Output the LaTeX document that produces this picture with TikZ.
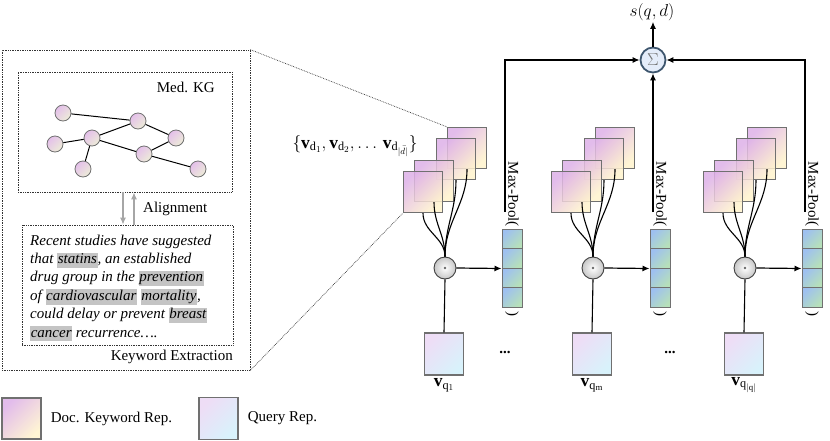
\documentclass[tikz,border=0pt]{standalone}
\usepackage{fontspec}
\setmainfont{Liberation Serif}
\usetikzlibrary{arrows.meta,positioning,shadings}

\definecolor{docA}{HTML}{DDB0E8}
\definecolor{docB}{HTML}{FFF3CC}
\definecolor{qryA}{HTML}{EEDDF6}
\definecolor{qryB}{HTML}{D8F2FB}
\definecolor{vecA}{HTML}{9EC0F0}
\definecolor{vecB}{HTML}{B6E0BA}
\definecolor{kgA}{HTML}{E4BFEA}
\definecolor{kgB}{HTML}{EDEDD8}
\definecolor{hlgray}{HTML}{C4C4C4}
\definecolor{sumfill}{HTML}{E4ECF9}
\definecolor{sumdraw}{HTML}{3E566E}
\definecolor{boxgray}{HTML}{707070}

\newcommand{\hlw}[1]{{\setlength{\fboxsep}{0.6pt}\colorbox{hlgray}{\rule[-3.6pt]{0pt}{14pt}#1}}}

\begin{document}
\begin{tikzpicture}[
            x=1pt, y=-1pt,
            every node/.style={
                font=\fontsize{15}{18}\selectfont,
                inner sep=1pt
            },
            mathlbl/.style={font=\fontsize{17.5}{20}\selectfont},
            docrep/.style={
                draw=boxgray,
                line width=1.3pt,
                top color=docA,
                bottom color=docB,
                shading angle=45,
                fill opacity=0.85,
                minimum width=39pt,
                minimum height=41pt,
                inner sep=0pt
            },
            qryrep/.style={
                draw=boxgray,
                line width=1.3pt,
                top color=qryA,
                bottom color=qryB,
                shading angle=45,
                minimum width=39pt,
                minimum height=42pt,
                inner sep=0pt
            },
            cell/.style={
                draw=boxgray,
                line width=1pt,
                top color=vecA,
                bottom color=vecB,
                shading angle=45,
                minimum width=20pt,
                minimum height=19.5pt,
                inner sep=0pt
            },
            kgnode/.style={
                circle,
                draw=boxgray,
                line width=0.8pt,
                top color=kgA,
                bottom color=kgB,
                shading angle=45,
                minimum size=16pt,
                inner sep=0pt
            },
            dotop/.style={
                circle,
                draw=black!75,
                line width=0.9pt,
                inner color=white,
                outer color=black!22,
                minimum size=22pt,
                inner sep=0pt
            },
            dotbox/.style={draw=black!80, densely dotted, line width=0.7pt},
            arr/.style={line width=1.2pt, -{Latex[length=7pt,width=6pt]}},
            alignarr/.style={draw=black!35, line width=1.3pt, -{Latex[length=7pt,width=6pt]}}
        ]
        \useasboundingbox (0,0) rectangle (830,440);

        % Keyword extraction panel
        \node[dotbox, minimum width=248pt, minimum height=320pt] (zoombox) at (126,210) {};
        \node[dotbox, minimum width=214pt, minimum height=120pt] (kgbox) at (125,132) {};
        \node[dotbox, minimum width=211pt, minimum height=120pt] (kwbox) at (127.5,285) {};
        \node[anchor=east] (kgtitle) at (216,87) {Med. KG};
        \node[anchor=east] (kwtitle) at (234,357) {Keyword Extraction};

        % Med. KG
        \node[kgnode] (n1) at (63,113) {};
        \node[kgnode] (n2) at (138,121) {};
        \node[kgnode] (n3) at (92,138) {};
        \node[kgnode] (n4) at (55,144) {};
        \node[kgnode] (n5) at (176,138) {};
        \node[kgnode] (n6) at (144,154) {};
        \node[kgnode] (n7) at (83,169) {};
        \node[kgnode] (n8) at (198,169) {};
        \draw[line width=1pt] (n1) -- (n2);
        \draw[line width=1pt] (n2) -- (n3);
        \draw[line width=1pt] (n2) -- (n5);
        \draw[line width=1pt] (n4) -- (n3);
        \draw[line width=1pt] (n3) -- (n7);
        \draw[line width=1pt] (n3) -- (n6);
        \draw[line width=1pt] (n6) -- (n5);
        \draw[line width=1pt] (n6) -- (n8);

        % Alignment
        \draw[alignarr] ([xshift=-2pt]kgbox.south) -- ([xshift=-2pt]kgbox.south |- kwbox.north);
        \draw[alignarr] ([xshift=9pt]kgbox.south |- kwbox.north) -- ([xshift=9pt]kgbox.south);
        \node[anchor=west] (aligntxt) at (142,209) {Alignment};

        % Abstract text
        \node[anchor=north west, align=left, inner sep=0pt,
              font=\fontsize{15}{18.4}\selectfont\itshape] (abstract) at (30,234.5)
            {Recent studies have suggested\\
             that \hlw{statins}, an established\\
             drug group in the \hlw{prevention}\\
             of \hlw{cardiovascular} \hlw{mortality},\\
             could delay or prevent \hlw{breast}\\
             \hlw{cancer} recurrence\ldots.};

        % Query terms
        \foreach \g/\dx/\ql in {1/0/1, 2/148/\mathrm{m}, 3/300/{|\mathrm{q}|}} {
            \node[docrep] (a\g) at (467+\dx,148) {};
            \node[docrep] (b\g) at (456+\dx,159) {};
            \node[docrep] (c\g) at (434+\dx,181) {};
            \node[docrep] (d\g) at (423+\dx,192) {};
            \node[dotop] (dot\g) at (445+\dx,268) {};
            \fill[black!60] (dot\g) circle (1.3pt);
            \draw[line width=1.1pt] (a\g.south) to[out=-90,in=90] (dot\g.north);
            \draw[line width=1.1pt] (b\g.south) to[out=-90,in=90] (dot\g.north);
            \draw[line width=1.1pt] (c\g.south) to[out=-90,in=90] (dot\g.north);
            \draw[line width=1.1pt] (d\g.south) to[out=-90,in=90] (dot\g.north);
            \node[cell] (v\g a) at (512+\dx,238.75) {};
            \node[cell] (v\g b) at (512+\dx,258.25) {};
            \node[cell] (v\g c) at (512+\dx,277.75) {};
            \node[cell] (v\g d) at (512+\dx,297.25) {};
            \draw[arr] (dot\g.east) -- (v\g b.south west);
            \node[rotate=-90, anchor=east] (mp\g) at (512+\dx,228) {Max-Pool(};
            \node[rotate=-90] (cp\g) at (512+\dx,314) {)};
            \coordinate (ml\g) at (505+\dx,212);
            \node[qryrep] (q\g) at (444+\dx,354) {};
            \draw[line width=1.1pt] (dot\g.south) -- (q\g.north);
            \node[mathlbl] (ql\g) at (444+\dx,385) {$\mathbf{v}_{\mathrm{q}_{\ql}}$};
        }
        \node (dd1) at (505,352) {\textbf{...}};
        \node (dd2) at (670,352) {\textbf{...}};
        \node[mathlbl] (dset) at (355,146) {$\{\mathbf{v}_{\mathrm{d}_1},\mathbf{v}_{\mathrm{d}_2},\ldots\,\mathbf{v}_{\mathrm{d}_{|\bar{d}|}}\}$};

        % Zoom lines
        \draw[dotbox] (zoombox.north east) -- (a1.north west);
        \draw[dotbox] (zoombox.south east) -- (d1.south west);

        % Sum
        \node[circle, fill=sumfill, draw=sumdraw, line width=1.8pt, minimum size=25pt,
              inner sep=0pt, text=black!55, font=\fontsize{17}{20}\selectfont] (sigma) at (653,60) {$\Sigma$};
        \node[font=\fontsize{19}{22}\selectfont] (score) at (652,12) {$s(q,d)$};
        \draw[arr] (sigma.north) -- (score.south -| sigma.north);
        \draw[arr] (ml1) |- (sigma.west);
        \draw[arr] (ml2) -- (sigma.south);
        \draw[arr] (ml3) |- (sigma.east);

        % Legend
        \node[docrep] (legdoc) at (21.5,418.5) {};
        \node[right=8pt of legdoc] (legdoctxt) {Doc. Keyword Rep.};
        \node[qryrep] (legqry) at (218.5,418.5) {};
        \node[right=8pt of legqry] (legqrytxt) {Query Rep.};

        \end{tikzpicture}
\end{document}
